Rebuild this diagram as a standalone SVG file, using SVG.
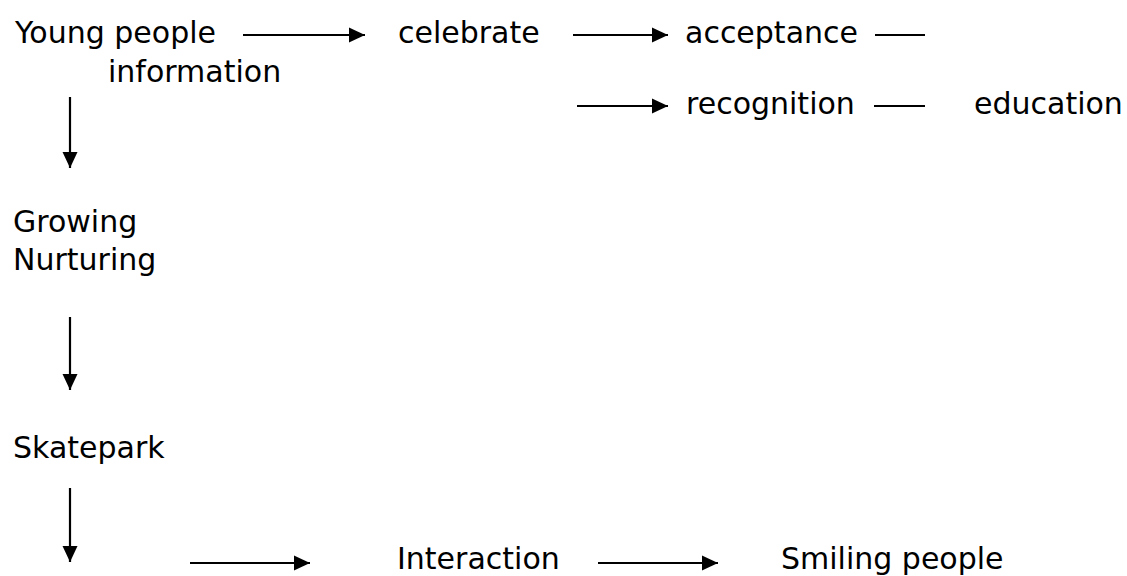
<svg xmlns="http://www.w3.org/2000/svg" width="1127" height="576" viewBox="0 0 1127 576">
<style>
text{font-family:"DejaVu Sans","Liberation Sans",sans-serif;font-size:30px;fill:#000}
.c{stroke:#000;stroke-width:2.2;fill:none}
</style>
<defs>
<marker id="ah" markerUnits="userSpaceOnUse" markerWidth="17" markerHeight="16" viewBox="0 0 17 16" refX="16" refY="8" orient="auto">
<path d="M0,0.5 L16,8 L0,15.5 Z" fill="#000"/>
</marker>
</defs>
<rect width="1127" height="576" fill="#fff"/>
<g id="connectors">
<line class="c" x1="243" y1="35" x2="365" y2="35" marker-end="url(#ah)"/>
<line class="c" x1="573" y1="35" x2="668" y2="35" marker-end="url(#ah)"/>
<line class="c" x1="875" y1="35" x2="925" y2="35"/>
<line class="c" x1="577" y1="106" x2="668" y2="106" marker-end="url(#ah)"/>
<line class="c" x1="874" y1="106" x2="925" y2="106"/>
<line class="c" x1="70" y1="97" x2="70" y2="168" marker-end="url(#ah)"/>
<line class="c" x1="70" y1="317" x2="70" y2="390" marker-end="url(#ah)"/>
<line class="c" x1="70" y1="488" x2="70" y2="562" marker-end="url(#ah)"/>
<line class="c" x1="190" y1="563" x2="310" y2="563" marker-end="url(#ah)"/>
<line class="c" x1="598" y1="563" x2="718" y2="563" marker-end="url(#ah)"/>
</g>
<g id="young"><text x="15" y="43">Young people</text><text x="108" y="82">information</text></g>
<g id="celebrate"><text x="398" y="43">celebrate</text></g>
<g id="acceptance"><text x="685" y="43">acceptance</text></g>
<g id="recognition"><text x="686" y="114">recognition</text></g>
<g id="education"><text x="974" y="114">education</text></g>
<g id="growing"><text x="13" y="232">Growing</text><text x="13" y="270">Nurturing</text></g>
<g id="skatepark"><text x="13" y="458">Skatepark</text></g>
<g id="interaction"><text x="397" y="569">Interaction</text></g>
<g id="smiling"><text x="781" y="569">Smiling people</text></g>
</svg>
